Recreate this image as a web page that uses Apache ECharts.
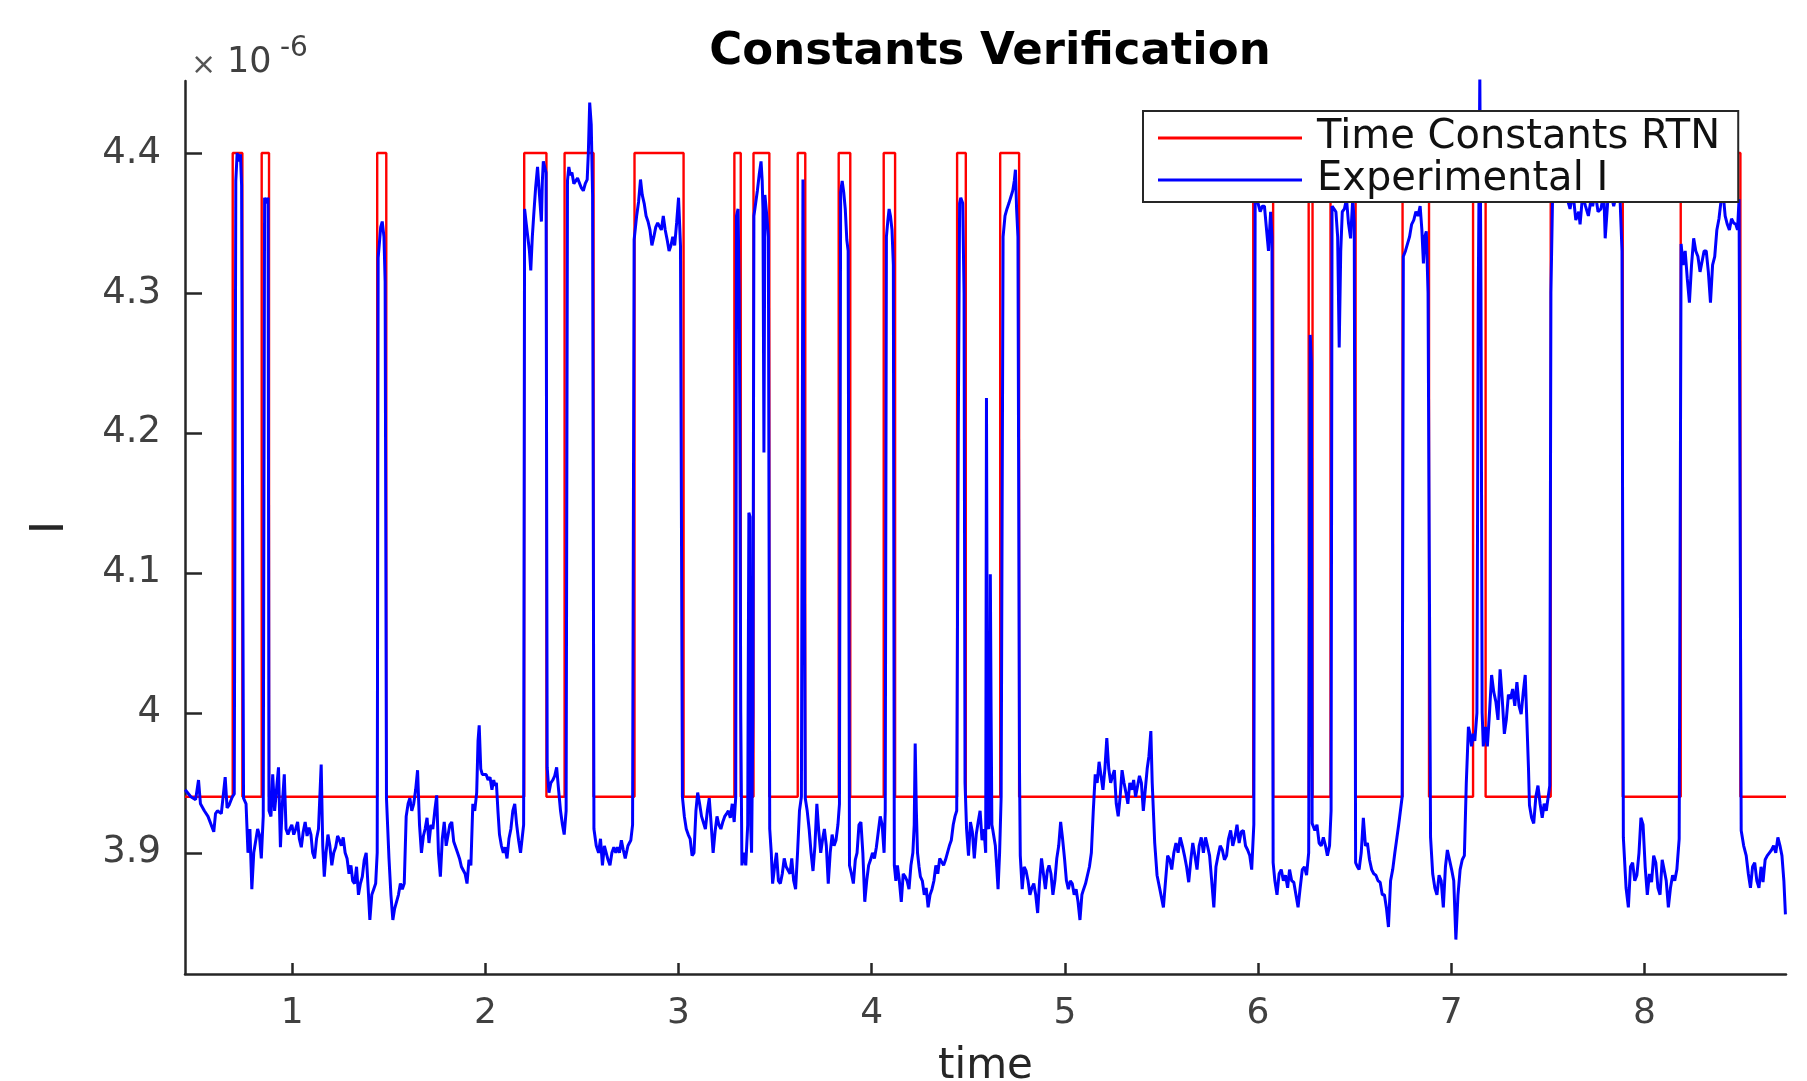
<!DOCTYPE html>
<html>
<head>
<meta charset="utf-8">
<script src="https://cdn.jsdelivr.net/npm/echarts@6/dist/echarts.min.js"></script>
<style>
html,body{margin:0;padding:0;background:#fff;}
#chart{width:1807px;height:1081px;}
</style>
</head>
<body>
<div id="chart"></div>
<script>
// ---- data (current in units of 1e-6 A) ----
var xTicks = [1, 2, 3, 4, 5, 6, 7, 8];
var yTicks = [3.9, 4, 4.1, 4.2, 4.3, 4.4];
var rtnLow = 3.94;
var rtnHigh = 4.40;
// intervals where the RTN model is in the high state [start, end]
var rtnHighIntervals = [
  [0.692, 0.742], [0.842, 0.880], [1.440, 1.487], [2.201, 2.316], [2.410, 2.560],
  [2.772, 3.026], [3.289, 3.322], [3.388, 3.470], [3.617, 3.656], [3.829, 3.889],
  [4.062, 4.121], [4.442, 4.487], [4.665, 4.763], [5.975, 6.078], [6.262, 6.282],
  [6.375, 6.505], [6.748, 6.885], [7.113, 7.178], [7.515, 7.888], [8.188, 8.497]
];

var expSeg1 = [[0.446,3.945],[0.475,3.940],[0.500,3.938],[0.515,3.952],[0.525,3.935],[0.545,3.930],[0.564,3.926],[0.594,3.915],[0.603,3.928],[0.613,3.930],[0.633,3.928],[0.653,3.954],[0.663,3.932],[0.673,3.934],[0.690,3.940],[0.700,3.942],[0.708,4.380],[0.715,4.400],[0.722,4.394],[0.732,4.399],[0.738,4.377],[0.748,3.939],[0.761,3.935],[0.771,3.900],[0.781,3.917],[0.791,3.874],[0.801,3.900],[0.811,3.900],[0.821,3.917],[0.830,3.913],[0.840,3.896],[0.850,3.926],[0.857,4.368],[0.866,4.364],[0.875,4.368],[0.880,3.930],[0.890,3.926],[0.899,3.956],[0.909,3.930],[0.919,3.930],[0.929,3.961],[0.939,3.904],[0.949,3.935],[0.959,3.956],[0.968,3.917],[0.978,3.913],[0.988,3.917],[0.998,3.920],[1.008,3.913],[1.018,3.917],[1.028,3.922],[1.037,3.910],[1.047,3.904],[1.057,3.915],[1.067,3.922],[1.077,3.912],[1.087,3.918],[1.097,3.913],[1.106,3.900],[1.116,3.896],[1.126,3.910],[1.136,3.917],[1.150,3.963],[1.158,3.905],[1.166,3.883],[1.175,3.900],[1.185,3.913],[1.195,3.905],[1.205,3.891],[1.215,3.900],[1.225,3.904],[1.235,3.912],[1.245,3.909],[1.254,3.905],[1.264,3.911],[1.274,3.900],[1.284,3.896],[1.294,3.885],[1.304,3.891],[1.313,3.880],[1.323,3.878],[1.333,3.890],[1.343,3.870],[1.353,3.878],[1.363,3.883],[1.373,3.895],[1.383,3.900],[1.393,3.875],[1.402,3.852],[1.412,3.870],[1.422,3.874],[1.432,3.878],[1.440,3.900],[1.445,4.325],[1.458,4.347],[1.466,4.351],[1.475,4.340],[1.481,4.308],[1.488,3.939],[1.501,3.896],[1.511,3.870],[1.521,3.852],[1.530,3.860],[1.540,3.861],[1.550,3.870],[1.560,3.878],[1.570,3.874],[1.580,3.878],[1.590,3.926],[1.600,3.935],[1.609,3.939],[1.619,3.930],[1.629,3.935],[1.639,3.945],[1.649,3.959],[1.659,3.920],[1.669,3.900],[1.679,3.912],[1.688,3.917],[1.698,3.925],[1.708,3.907],[1.718,3.920],[1.728,3.917],[1.738,3.930],[1.748,3.941],[1.757,3.900],[1.767,3.883],[1.777,3.910],[1.787,3.922],[1.797,3.905],[1.807,3.904],[1.816,3.920],[1.826,3.922],[1.836,3.908],[1.846,3.909],[1.856,3.900],[1.866,3.896],[1.876,3.890],[1.886,3.891],[1.895,3.885],[1.905,3.878],[1.915,3.895],[1.925,3.891],[1.935,3.935],[1.945,3.930],[1.955,3.943],[1.962,3.980],[1.968,3.991],[1.976,3.960],[1.984,3.956],[1.994,3.955]];

var expSeg2 = [[2.004,3.956],[2.014,3.952],[2.024,3.954],[2.034,3.945],[2.043,3.952],[2.050,3.948],[2.057,3.950],[2.065,3.930],[2.073,3.913],[2.083,3.905],[2.093,3.900],[2.102,3.904],[2.112,3.896],[2.122,3.910],[2.132,3.917],[2.142,3.930],[2.152,3.935],[2.162,3.920],[2.172,3.909],[2.182,3.900],[2.191,3.900],[2.198,3.920],[2.203,4.360],[2.211,4.350],[2.221,4.351],[2.228,4.330],[2.235,4.316],[2.243,4.340],[2.250,4.355],[2.260,4.375],[2.270,4.390],[2.280,4.370],[2.290,4.351],[2.295,4.380],[2.300,4.394],[2.307,4.395],[2.314,4.386],[2.320,3.961],[2.329,3.943],[2.339,3.950],[2.349,3.952],[2.359,3.955],[2.369,3.961],[2.379,3.945],[2.389,3.930],[2.399,3.920],[2.408,3.913],[2.418,3.930],[2.425,4.380],[2.432,4.390],[2.440,4.384],[2.448,4.386],[2.458,4.378],[2.467,4.377],[2.477,4.382],[2.487,4.381],[2.497,4.375],[2.507,4.373],[2.517,4.378],[2.527,4.381],[2.533,4.400],[2.540,4.436],[2.548,4.420],[2.555,4.370],[2.562,3.917],[2.574,3.905],[2.586,3.900],[2.596,3.910],[2.606,3.891],[2.616,3.905],[2.625,3.904],[2.635,3.895],[2.645,3.891],[2.655,3.900],[2.665,3.904],[2.675,3.900],[2.684,3.904],[2.694,3.900],[2.704,3.909],[2.714,3.902],[2.724,3.896],[2.738,3.905],[2.753,3.909],[2.762,3.920],[2.770,4.338],[2.783,4.355],[2.793,4.365],[2.803,4.381],[2.812,4.370],[2.822,4.364],[2.832,4.355],[2.842,4.351],[2.852,4.345],[2.862,4.334],[2.872,4.340],[2.882,4.347],[2.892,4.350],[2.901,4.351],[2.911,4.345],[2.921,4.355],[2.931,4.345],[2.941,4.338],[2.951,4.330],[2.961,4.334],[2.970,4.340],[2.980,4.334],[2.990,4.350],[3.000,4.368],[3.010,4.334],[3.020,3.940],[3.030,3.926],[3.040,3.917],[3.050,3.913],[3.060,3.910],[3.070,3.898],[3.080,3.900],[3.090,3.930],[3.099,3.943],[3.109,3.935],[3.119,3.926],[3.129,3.925],[3.139,3.917],[3.149,3.930],[3.159,3.939],[3.169,3.920],[3.179,3.900],[3.189,3.915],[3.199,3.926],[3.209,3.920],[3.219,3.917],[3.229,3.922],[3.239,3.926],[3.249,3.928],[3.258,3.930],[3.268,3.925],[3.278,3.935],[3.288,3.922],[3.296,3.940],[3.300,4.355],[3.308,4.360],[3.314,4.300],[3.318,4.178],[3.322,4.000],[3.328,3.891],[3.338,3.900],[3.348,3.891],[3.358,3.920],[3.364,4.143],[3.370,4.140],[3.374,3.917],[3.378,3.900],[3.385,4.000],[3.390,4.355],[3.400,4.365],[3.408,4.373],[3.418,4.385],[3.427,4.394],[3.433,4.380],[3.437,4.360],[3.442,4.186],[3.447,4.370],[3.457,4.355],[3.465,4.340],[3.472,3.917],[3.480,3.900],[3.487,3.878],[3.497,3.890],[3.507,3.900],[3.517,3.880],[3.527,3.878],[3.537,3.885],[3.547,3.896],[3.557,3.890],[3.567,3.891],[3.577,3.885],[3.586,3.896],[3.596,3.880],[3.606,3.874],[3.616,3.900],[3.626,3.930],[3.636,3.940],[3.644,4.381],[3.650,4.381],[3.656,3.939],[3.666,3.930],[3.676,3.917],[3.686,3.900],[3.696,3.887],[3.706,3.905],[3.716,3.935],[3.726,3.915],[3.736,3.900],[3.746,3.910],[3.755,3.917],[3.765,3.905],[3.775,3.878],[3.785,3.900],[3.795,3.913],[3.805,3.905],[3.815,3.909],[3.825,3.920],[3.833,3.935],[3.839,4.372],[3.847,4.380],[3.855,4.372],[3.863,4.360],[3.871,4.338],[3.878,4.330],[3.885,3.891],[3.895,3.885],[3.905,3.878],[3.915,3.895],[3.924,3.900],[3.934,3.920],[3.944,3.922],[3.954,3.900],[3.964,3.865],[3.974,3.880],[3.984,3.891],[3.994,3.895]];

var expSeg3 = [[4.004,3.900],[4.014,3.896],[4.024,3.904],[4.034,3.915],[4.044,3.926],[4.054,3.920],[4.064,3.900],[4.070,3.930],[4.076,4.340],[4.083,4.351],[4.090,4.360],[4.097,4.355],[4.105,4.345],[4.112,4.320],[4.117,3.891],[4.125,3.880],[4.133,3.891],[4.143,3.880],[4.153,3.865],[4.163,3.885],[4.173,3.883],[4.183,3.880],[4.193,3.874],[4.203,3.891],[4.213,3.900],[4.220,3.920],[4.225,3.978],[4.231,3.930],[4.237,3.900],[4.245,3.890],[4.252,3.883],[4.262,3.880],[4.272,3.870],[4.282,3.875],[4.292,3.861],[4.302,3.870],[4.312,3.874],[4.322,3.880],[4.332,3.891],[4.342,3.885],[4.352,3.896],[4.362,3.895],[4.372,3.891],[4.382,3.895],[4.392,3.900],[4.402,3.905],[4.412,3.909],[4.422,3.920],[4.431,3.926],[4.440,3.930],[4.448,4.200],[4.455,4.364],[4.461,4.368],[4.471,4.364],[4.478,4.300],[4.483,3.950],[4.491,3.917],[4.501,3.898],[4.511,3.922],[4.521,3.915],[4.531,3.896],[4.541,3.913],[4.551,3.922],[4.561,3.930],[4.571,3.909],[4.581,3.917],[4.590,3.900],[4.594,4.225],[4.600,3.920],[4.606,3.917],[4.610,3.950],[4.614,4.099],[4.618,4.000],[4.622,3.920],[4.626,3.917],[4.633,3.917],[4.640,3.905],[4.647,3.890],[4.654,3.874],[4.662,3.900],[4.670,3.940],[4.680,4.340],[4.690,4.355],[4.700,4.360],[4.710,4.364],[4.720,4.365],[4.730,4.373],[4.738,4.380],[4.744,4.388],[4.750,4.360],[4.757,4.340],[4.765,3.960],[4.769,3.898],[4.779,3.874],[4.789,3.890],[4.799,3.887],[4.809,3.880],[4.819,3.870],[4.829,3.875],[4.839,3.878],[4.849,3.870],[4.859,3.857],[4.869,3.880],[4.879,3.896],[4.889,3.885],[4.899,3.874],[4.909,3.887],[4.918,3.891],[4.928,3.885],[4.938,3.870],[4.948,3.880],[4.958,3.896],[4.968,3.905],[4.978,3.922],[4.988,3.910],[4.998,3.896],[5.008,3.880],[5.018,3.874],[5.028,3.880],[5.038,3.878],[5.048,3.870],[5.058,3.874],[5.068,3.865],[5.078,3.852],[5.088,3.870],[5.097,3.874],[5.107,3.878],[5.117,3.878],[5.127,3.890],[5.137,3.900],[5.147,3.930],[5.157,3.956],[5.167,3.950],[5.177,3.965],[5.187,3.955],[5.197,3.945],[5.207,3.960],[5.217,3.982],[5.227,3.960],[5.237,3.950],[5.247,3.955],[5.256,3.959],[5.266,3.935],[5.276,3.926],[5.286,3.940],[5.296,3.959],[5.306,3.950],[5.316,3.943],[5.326,3.935],[5.336,3.950],[5.346,3.945],[5.356,3.952],[5.366,3.940],[5.376,3.939],[5.386,3.955],[5.396,3.950],[5.406,3.930],[5.416,3.945],[5.426,3.960],[5.435,3.969],[5.445,3.987],[5.452,3.950],[5.465,3.907],[5.477,3.884],[5.490,3.875],[5.510,3.861],[5.521,3.880],[5.532,3.898],[5.543,3.895],[5.553,3.888],[5.564,3.900],[5.575,3.907],[5.586,3.900],[5.597,3.911],[5.608,3.905],[5.619,3.898],[5.630,3.890],[5.641,3.879],[5.652,3.895],[5.662,3.907],[5.673,3.898],[5.684,3.888],[5.695,3.905],[5.706,3.911],[5.717,3.900],[5.728,3.911],[5.738,3.905],[5.749,3.898],[5.760,3.880],[5.771,3.861],[5.782,3.890],[5.793,3.898],[5.804,3.905],[5.815,3.902],[5.826,3.895],[5.837,3.898],[5.847,3.910],[5.858,3.916],[5.869,3.905],[5.880,3.911],[5.891,3.920],[5.902,3.907],[5.913,3.915],[5.924,3.916],[5.935,3.905],[5.946,3.902],[5.957,3.898],[5.967,3.888],[5.978,3.920],[5.985,4.372],[5.998,4.365]];

var expSeg4 = [[6.011,4.358],[6.022,4.362],[6.033,4.362],[6.044,4.345],[6.054,4.330],[6.065,4.358],[6.072,4.340],[6.078,3.893],[6.087,3.880],[6.098,3.870],[6.109,3.885],[6.120,3.888],[6.131,3.880],[6.142,3.884],[6.153,3.875],[6.163,3.888],[6.174,3.880],[6.185,3.879],[6.196,3.870],[6.207,3.861],[6.218,3.875],[6.229,3.888],[6.240,3.890],[6.251,3.884],[6.262,3.900],[6.270,4.270],[6.276,4.250],[6.280,3.921],[6.294,3.916],[6.305,3.920],[6.316,3.907],[6.327,3.905],[6.338,3.911],[6.349,3.905],[6.359,3.898],[6.370,3.905],[6.378,3.930],[6.383,4.362],[6.393,4.360],[6.403,4.358],[6.412,4.340],[6.420,4.261],[6.428,4.330],[6.436,4.358],[6.447,4.360],[6.458,4.367],[6.468,4.350],[6.479,4.339],[6.490,4.367],[6.498,4.350],[6.505,3.893],[6.514,3.890],[6.523,3.888],[6.534,3.900],[6.545,3.925],[6.556,3.905],[6.566,3.907],[6.577,3.895],[6.588,3.888],[6.599,3.885],[6.610,3.884],[6.621,3.880],[6.632,3.879],[6.643,3.870],[6.654,3.870],[6.665,3.860],[6.675,3.847],[6.686,3.880],[6.697,3.888],[6.708,3.900],[6.719,3.911],[6.728,3.920],[6.736,3.921],[6.746,3.940],[6.752,4.326],[6.763,4.330],[6.773,4.330],[6.784,4.340],[6.795,4.349],[6.806,4.352],[6.817,4.358],[6.828,4.355],[6.839,4.362],[6.848,4.345],[6.856,4.321],[6.863,4.340],[6.871,4.344],[6.880,4.300],[6.893,3.911],[6.904,3.885],[6.915,3.875],[6.926,3.870],[6.937,3.884],[6.948,3.880],[6.959,3.861],[6.970,3.890],[6.980,3.902],[6.991,3.895],[7.002,3.888],[7.013,3.880],[7.024,3.838],[7.035,3.870],[7.046,3.888],[7.057,3.895],[7.068,3.898],[7.078,3.950],[7.089,3.990],[7.097,3.985],[7.105,3.976],[7.114,3.985],[7.122,3.980],[7.133,4.000],[7.140,4.300],[7.148,4.455],[7.154,4.300],[7.160,4.000],[7.166,3.976],[7.177,3.990],[7.187,3.976],[7.198,4.000],[7.209,4.027],[7.220,4.015],[7.231,4.008],[7.242,3.995],[7.253,4.031],[7.264,4.010],[7.275,3.985],[7.285,3.995],[7.296,4.013],[7.307,4.010],[7.318,4.017],[7.329,4.005],[7.340,4.022],[7.351,4.005],[7.362,3.999],[7.373,4.015],[7.383,4.027],[7.390,4.000],[7.400,3.960],[7.405,3.934],[7.416,3.925],[7.427,3.921],[7.438,3.940],[7.449,3.948],[7.460,3.935],[7.471,3.925],[7.481,3.935],[7.492,3.930],[7.502,3.940],[7.510,3.948],[7.516,4.300],[7.525,4.372],[7.540,4.375],[7.555,4.370],[7.570,4.378],[7.585,4.366],[7.601,4.367],[7.615,4.360],[7.630,4.372],[7.645,4.352],[7.660,4.358],[7.667,4.349],[7.680,4.370],[7.695,4.362],[7.710,4.355],[7.725,4.368],[7.732,4.362],[7.745,4.372],[7.760,4.358],[7.775,4.360],[7.790,4.372],[7.797,4.339],[7.810,4.365],[7.825,4.372],[7.841,4.362],[7.855,4.370],[7.865,4.375],[7.874,4.367],[7.884,4.330],[7.891,3.911],[7.905,3.875],[7.917,3.861],[7.928,3.890],[7.939,3.893],[7.950,3.880],[7.961,3.884],[7.972,3.900],[7.982,3.925],[7.993,3.920],[8.004,3.890],[8.015,3.870],[8.026,3.885],[8.037,3.879],[8.048,3.898],[8.059,3.893],[8.070,3.875],[8.081,3.870],[8.092,3.895],[8.102,3.888],[8.113,3.880],[8.124,3.861],[8.135,3.875],[8.146,3.884],[8.157,3.880],[8.168,3.888],[8.180,3.910],[8.190,4.335],[8.200,4.320],[8.211,4.330],[8.222,4.310],[8.233,4.293],[8.244,4.320],[8.255,4.339],[8.266,4.330],[8.277,4.326],[8.288,4.315],[8.298,4.316],[8.309,4.330],[8.320,4.330],[8.331,4.315],[8.342,4.293],[8.353,4.320],[8.364,4.326],[8.375,4.345],[8.386,4.353],[8.396,4.365],[8.407,4.372],[8.418,4.355],[8.429,4.349],[8.440,4.345],[8.451,4.353],[8.462,4.350],[8.473,4.349],[8.482,4.345],[8.490,4.367],[8.501,3.916],[8.514,3.905],[8.527,3.898],[8.538,3.885],[8.549,3.875],[8.560,3.890],[8.571,3.893],[8.582,3.880],[8.593,3.875],[8.604,3.890],[8.614,3.879],[8.625,3.895],[8.636,3.898],[8.647,3.900],[8.658,3.902],[8.669,3.905],[8.680,3.900],[8.691,3.911],[8.702,3.905],[8.712,3.898],[8.722,3.880],[8.730,3.856]];

var xMin = 0.445, xMax = 8.733;
var yMin = 3.8134, yMax = 4.4514;

// ---- build series data ----
var rtnData = [[xMin, rtnLow]];
rtnHighIntervals.forEach(function (iv) {
  rtnData.push([iv[0], rtnLow], [iv[0], rtnHigh], [iv[1], rtnHigh], [iv[1], rtnLow]);
});
rtnData.push([xMax, rtnLow]);
var expData = expSeg1.concat(expSeg2, expSeg3, expSeg4);

var FONT = 'DejaVu Sans';
var axisColor = '#262626';
var labelColor = '#404040';

var chart = echarts.init(document.getElementById('chart'), null, {renderer: 'canvas'});
chart.setOption({
  animation: false,
  backgroundColor: '#ffffff',
  title: {
    text: 'Constants Verification',
    left: 985,
    top: 25,
    textAlign: 'center',
    textStyle: {fontFamily: FONT, fontWeight: 'bold', fontSize: 45, color: '#000'}
  },
  grid: {left: 185, right: 21, top: 81, bottom: 107, containLabel: false, outerBoundsMode: 'none'},
  legend: {
    data: [
      {name: 'Time Constants RTN', icon: 'rect'},
      {name: 'Experimental I', icon: 'rect'}
    ],
    orient: 'vertical',
    left: 1143,
    top: 111,
    itemWidth: 144,
    itemHeight: 3,
    itemGap: 2,
    padding: [7, 18, 2, 15],
    backgroundColor: '#ffffff',
    borderColor: axisColor,
    borderWidth: 2,
    borderRadius: 0,
    textStyle: {fontFamily: FONT, fontSize: 40, color: '#111', padding: [0, 0, 0, 10]}
  },
  xAxis: {
    type: 'value',
    min: xMin,
    max: xMax,
    name: 'time',
    nameLocation: 'middle',
    nameGap: 72,
    nameTextStyle: {fontFamily: FONT, fontSize: 42, color: axisColor},
    axisLine: {show: true, onZero: false, lineStyle: {color: axisColor, width: 2.5}},
    axisTick: {show: true, inside: true, length: 11, customValues: xTicks, lineStyle: {color: axisColor, width: 2.5}},
    axisLabel: {customValues: xTicks, fontFamily: FONT, fontSize: 36, color: labelColor, margin: 22},
    splitLine: {show: false}
  },
  yAxis: {
    type: 'value',
    min: yMin,
    max: yMax,
    name: 'I',
    nameLocation: 'middle',
    nameGap: 111,
    nameTextStyle: {fontFamily: FONT, fontSize: 46, color: axisColor},
    axisLine: {show: true, onZero: false, lineStyle: {color: axisColor, width: 2.5}},
    axisTick: {show: true, inside: true, length: 17, customValues: yTicks, lineStyle: {color: axisColor, width: 2.5}},
    axisLabel: {customValues: yTicks, fontFamily: FONT, fontSize: 37, color: labelColor, margin: 24},
    splitLine: {show: false}
  },
  graphic: [
    {type: 'text', x: 191, y: 66, style: {text: '\u00d7', font: '30px "DejaVu Sans"', fill: '#555', verticalAlign: 'middle'}},
    {type: 'text', x: 227, y: 63, style: {text: '10', font: '35px "DejaVu Sans"', fill: labelColor, verticalAlign: 'middle'}},
    {type: 'text', x: 280, y: 49, style: {text: '-6', font: '28px "DejaVu Sans"', fill: labelColor, verticalAlign: 'middle'}}
  ],
  series: [
    {
      name: 'Time Constants RTN',
      type: 'line',
      data: rtnData,
      showSymbol: false,
      symbol: 'none',
      lineStyle: {color: '#ff0000', width: 2.4},
      itemStyle: {color: '#ff0000'},
      clip: true,
      z: 2
    },
    {
      name: 'Experimental I',
      type: 'line',
      data: expData,
      showSymbol: false,
      symbol: 'none',
      lineStyle: {color: '#0000ff', width: 3},
      itemStyle: {color: '#0000ff'},
      clip: true,
      z: 3
    }
  ]
});
</script>
</body>
</html>
